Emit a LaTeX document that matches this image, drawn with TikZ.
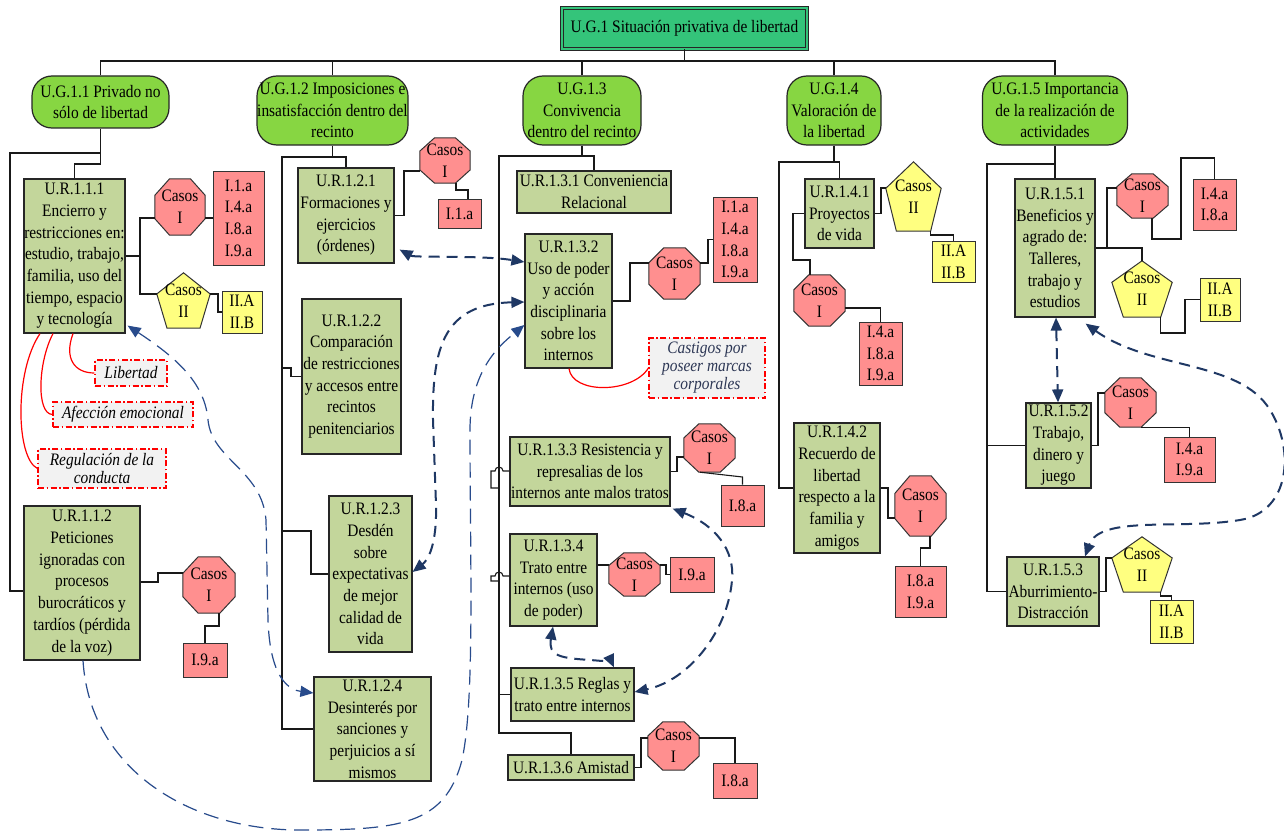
\documentclass[tikz,border=0pt]{standalone}
\usepackage{fontspec}
\setmainfont{Liberation Serif}[FakeStretch=0.88]
\usetikzlibrary{arrows.meta,backgrounds,calc}
\definecolor{topg}{RGB}{52,196,122}
\definecolor{ugg}{RGB}{135,214,66}
\definecolor{urg}{RGB}{195,214,155}
\definecolor{casr}{RGB}{255,143,143}
\definecolor{casy}{RGB}{255,255,128}
\definecolor{navy}{RGB}{31,56,100}
\definecolor{navyb}{RGB}{40,75,140}
\definecolor{annbg}{RGB}{242,242,242}
\definecolor{anntxt}{RGB}{45,55,85}
\newcommand\fs{\fontsize{17.5}{21.7}\selectfont}
\newcommand\fsa{\fontsize{17.5}{18}\selectfont}
\newcommand\drawoct[1]{\filldraw[fill=casr, draw=black!80, line width=1pt]
 ($(#1.north west)!0.293!(#1.north east)$) -- ($(#1.north west)!0.707!(#1.north east)$) --
 ($(#1.north east)!0.293!(#1.south east)$) -- ($(#1.north east)!0.707!(#1.south east)$) --
 ($(#1.south east)!0.293!(#1.south west)$) -- ($(#1.south east)!0.707!(#1.south west)$) --
 ($(#1.south west)!0.293!(#1.north west)$) -- ($(#1.south west)!0.707!(#1.north west)$) -- cycle;}
\newcommand\drawpent[1]{\filldraw[fill=casy, draw=black!80, line width=1pt]
 (#1.north) -- ($(#1.south east)!0.618!(#1.north east)$) -- ($(#1.south west)!0.809!(#1.south east)$) --
 ($(#1.south west)!0.191!(#1.south east)$) -- ($(#1.south west)!0.618!(#1.north west)$) -- cycle;}
\begin{document}
\begin{tikzpicture}[x=1pt,y=-1pt,
 >={Triangle[length=13pt,width=11pt]},
 base/.style={inner sep=0pt, align=center, font=\fs, text=black},
 ur/.style={base, rectangle, draw=black!85, line width=1.2pt, fill=urg},
 ug/.style={base, rectangle, draw=black!85, line width=1.2pt, fill=ugg, rounded corners=20pt},
 refr/.style={base, rectangle, draw=black!80, line width=1pt, fill=casr},
 refy/.style={refr, fill=casy},
 shp/.style={base, rectangle},
 ann/.style={base, rectangle, draw=red, fill=annbg, line width=1.1pt, dash pattern=on 6pt off 2.5pt on 1.5pt off 2.5pt, font=\fsa\itshape},
 conn/.style={line width=1.1pt, black!90},
 mainc/.style={line width=1.9pt, black!90},
 redc/.style={line width=1.2pt, red},
 darr/.style={navy, line width=2pt, dash pattern=on 11pt off 7pt},
 tarr/.style={navyb, line width=1.2pt, dash pattern=on 15pt off 8pt}]
\useasboundingbox (0,0) rectangle (1284,832);
\begin{pgfonlayer}{background}
\fill[white] (0,0) rectangle (1284,832);
\end{pgfonlayer}

% top
\node[base, draw=black!85, double=topg, double distance=2.2pt, line width=0.8pt, fill=topg, minimum width=245pt, minimum height=41pt] (ug1) at (684.5,28.5) {U.G.1 Situación privativa de libertad};
\node[ug, minimum width=137pt, minimum height=52pt] (ug11) at (100.5,102) {U.G.1.1 Privado no\\sólo de libertad};
\node[ug, minimum width=151pt, minimum height=69pt] (ug12) at (332.5,110.5) {U.G.1.2 Imposiciones e\\insatisfacción dentro del\\recinto};
\node[ug, minimum width=118pt, minimum height=69pt] (ug13) at (582,110.5) {U.G.1.3\\Convivencia\\dentro del recinto};
\node[ug, minimum width=94pt, minimum height=69pt] (ug14) at (834,110.5) {U.G.1.4\\Valoración de\\la libertad};
\node[ug, minimum width=145pt, minimum height=69pt] (ug15) at (1055,110.5) {U.G.1.5 Importancia\\de la realización de\\actividades};

% column 1
\node[ur, minimum width=101pt, minimum height=154pt] (ur111) at (74.5,256) {U.R.1.1.1\\Encierro y\\restricciones en:\\estudio, trabajo,\\familia, uso del\\tiempo, espacio\\y tecnología};
\node[shp, minimum width=50pt, minimum height=56pt] (c111) at (180,207) {Casos\\I};
\node[refr, minimum width=51pt, minimum height=94pt] (r111) at (238.5,218) {I.1.a\\I.4.a\\I.8.a\\I.9.a};
\node[shp, minimum width=53pt, minimum height=55pt] (p111) at (183.5,300.5) {Casos\\II};
\node[refy, minimum width=40pt, minimum height=42pt] (y111) at (242,312) {II.A\\II.B};
\node[ann, minimum width=72pt, minimum height=26pt] (annlib) at (131,373) {Libertad};
\node[ann, minimum width=140pt, minimum height=25pt] (annafe) at (123,414.5) {Afección emocional};
\node[ann, minimum width=128pt, minimum height=39pt] (annreg) at (102,468.5) {Regulación de la\\conducta};
\node[ur, minimum width=116pt, minimum height=154pt] (ur112) at (82,583) {U.R.1.1.2\\Peticiones\\ignoradas con\\procesos\\burocráticos y\\tardíos (pérdida\\de la voz)};
\node[shp, minimum width=52pt, minimum height=56pt] (c112) at (209,585) {Casos\\I};
\node[refr, minimum width=44pt, minimum height=34pt] (r112) at (205,660) {I.9.a};

% column 2
\node[ur, minimum width=96pt, minimum height=95pt] (ur121) at (346,215.5) {U.R.1.2.1\\Formaciones y\\ejercicios\\(órdenes)};
\node[shp, minimum width=50pt, minimum height=45pt] (c121) at (445,160.5) {Casos\\I};
\node[refr, minimum width=43pt, minimum height=29pt] (r121) at (459.5,213.5) {I.1.a};
\node[ur, minimum width=99pt, minimum height=155pt] (ur122) at (351.5,376.5) {U.R.1.2.2\\Comparación\\de restricciones\\y accesos entre\\recintos\\penitenciarios};
\node[ur, minimum width=83pt, minimum height=156pt] (ur123) at (370.5,574) {U.R.1.2.3\\Desdén\\sobre\\expectativas\\de mejor\\calidad de\\vida};
\node[ur, minimum width=117pt, minimum height=104pt] (ur124) at (372.5,729) {U.R.1.2.4\\Desinterés por\\sanciones y\\perjuicios a sí\\mismos};

% column 3
\node[ur, minimum width=154pt, minimum height=42pt] (ur131) at (594,192) {U.R.1.3.1 Conveniencia\\Relacional};
\node[ur, minimum width=87pt, minimum height=134pt] (ur132) at (568.5,301) {U.R.1.3.2\\Uso de poder\\y acción\\disciplinaria\\sobre los\\internos};
\node[shp, minimum width=51pt, minimum height=51pt] (c132) at (674.5,273.5) {Casos\\I};
\node[refr, minimum width=44pt, minimum height=85pt] (r132) at (735,239.5) {I.1.a\\I.4.a\\I.8.a\\I.9.a};
\node[ann, minimum width=116pt, minimum height=60pt, text=anntxt] (anncas) at (707,368) {Castigos por\\poseer marcas\\corporales};
\node[ur, minimum width=160pt, minimum height=69pt] (ur133) at (590,471.5) {U.R.1.3.3 Resistencia y\\represalias de los\\internos ante malos tratos};
\node[shp, minimum width=51pt, minimum height=48pt] (c133) at (709.5,448) {Casos\\I};
\node[refr, minimum width=43pt, minimum height=41pt] (r133) at (742.5,505.5) {I.8.a};
\node[ur, minimum width=87pt, minimum height=92pt] (ur134) at (553.5,580) {U.R.1.3.4\\Trato entre\\internos (uso\\de poder)};
\node[shp, minimum width=51pt, minimum height=43pt] (c134) at (634.5,574.5) {Casos\\I};
\node[refr, minimum width=44pt, minimum height=35pt] (r134) at (692,574.5) {I.9.a};
\node[ur, minimum width=123pt, minimum height=53pt] (ur135) at (572.5,694.5) {U.R.1.3.5 Reglas y\\trato entre internos};
\node[ur, minimum width=126pt, minimum height=25pt] (ur136) at (571,767.5) {U.R.1.3.6 Amistad};
\node[shp, minimum width=51pt, minimum height=48pt] (c136) at (673.5,746) {Casos\\I};
\node[refr, minimum width=44pt, minimum height=35pt] (r136) at (735,780.5) {I.8.a};

% column 4
\node[ur, minimum width=69pt, minimum height=69pt] (ur141) at (839.5,213.5) {U.R.1.4.1\\Proyectos\\de vida};
\node[shp, minimum width=55pt, minimum height=69pt] (p141) at (913.5,196.5) {Casos\\II};
\node[refy, minimum width=43pt, minimum height=41pt] (y141) at (953.5,261.5) {II.A\\II.B};
\node[shp, minimum width=51pt, minimum height=51pt] (c141) at (819.5,300.5) {Casos\\I};
\node[refr, minimum width=43pt, minimum height=63pt] (r141) at (880.5,353.5) {I.4.a\\I.8.a\\I.9.a};
\node[ur, minimum width=86pt, minimum height=130pt] (ur142) at (837,488) {U.R.1.4.2\\Recuerdo de\\libertad\\respecto a la\\familia y\\amigos};
\node[shp, minimum width=51pt, minimum height=60pt] (c142) at (920.5,506) {Casos\\I};
\node[refr, minimum width=51pt, minimum height=51pt] (r142) at (920.5,591.5) {I.8.a\\I.9.a};

% column 5
\node[ur, minimum width=80pt, minimum height=138pt] (ur151) at (1055,248) {U.R.1.5.1\\Beneficios y\\agrado de:\\Talleres,\\trabajo y\\estudios};
\node[shp, minimum width=51pt, minimum height=44pt] (c151) at (1142.5,196) {Casos\\I};
\node[refr, minimum width=43pt, minimum height=51pt] (r151) at (1214.5,204.5) {I.4.a\\I.8.a};
\node[shp, minimum width=60pt, minimum height=56pt] (p151) at (1142,289) {Casos\\II};
\node[refy, minimum width=40pt, minimum height=43pt] (y151) at (1220,299.5) {II.A\\II.B};
\node[ur, minimum width=65pt, minimum height=85pt] (ur152) at (1058.5,445.5) {U.R.1.5.2\\Trabajo,\\dinero y\\juego};
\node[shp, minimum width=51pt, minimum height=49pt] (c152) at (1130.5,402.5) {Casos\\I};
\node[refr, minimum width=51pt, minimum height=45pt] (r152) at (1189.5,459.5) {I.4.a\\I.9.a};
\node[ur, minimum width=92pt, minimum height=69pt] (ur153) at (1053,591.5) {U.R.1.5.3\\Aburrimiento-\\Distracción};
\node[shp, minimum width=60pt, minimum height=55pt] (p153) at (1142,564.5) {Casos\\II};
\node[refy, minimum width=43pt, minimum height=43pt] (y153) at (1171.5,621.5) {II.A\\II.B};

% octagon / pentagon outlines
\begin{pgfonlayer}{background}
\drawoct{c111}\drawoct{c112}\drawoct{c121}\drawoct{c132}\drawoct{c133}\drawoct{c134}
\drawoct{c136}\drawoct{c141}\drawoct{c142}\drawoct{c151}\drawoct{c152}
\drawpent{p111}\drawpent{p141}\drawpent{p151}\drawpent{p153}
\end{pgfonlayer}

% top bus
\coordinate (bus) at (684.5,61);
\draw[mainc] (ug1.south) -- (bus);
\draw[mainc] (ug11.north) |- (bus);
\draw[mainc] (ug12.north) |- (bus);
\draw[mainc] (ug13.north) |- (bus);
\draw[mainc] (ug14.north) |- (bus);
\draw[mainc] (ug15.north) |- (bus);

% column 1 connectors
\draw[conn] (ug11.south) -- (100.5,164) -| (ur111.north);
\draw[conn] (100.5,153) -| (10,591) -- (ur112.west |- 10,591);
\draw[conn] (ur111.east) -- (140,256);
\draw[conn] (c111.west |- 0,218) -| (140,294) -- (p111.west |- 0,294);
\draw[conn] (c111.east |- 0,218) -- (r111.west |- 0,218);
\draw[conn] (p111.east |- 0,294) -| (218,312) -- (y111.west);
\draw[conn] (ur112.east |- 0,582) -| (158,573) -- (c112.west |- 0,573);
\draw[conn] (c112.south -| 219,0) |- (205,626) -- (r112.north);
\draw[redc] (ur111.south -| 73,0) .. controls (64,358) and (74,373) .. (annlib.west);
\draw[redc] (ur111.south -| 53,0) .. controls (38,362) and (36,414) .. (annafe.west);
\draw[redc] (ur111.south -| 40,0) .. controls (14,372) and (16,458) .. (annreg.west);

% column 2 connectors
\draw[conn] (ug12.south) -- (332.5,157) -| (ur121.north);
\draw[conn] (332.5,157) -| (ur124.west -| 282,0) -- (ur124.west);
\draw[conn] (282,368) -| (291,376.5) -- (ur122.west);
\draw[conn] (282,531) -| (311,574) -- (ur123.west);
\draw[conn] (ur121.east) -| (404,171) -- (c121.west |- 0,171);
\draw[conn] (c121.south -| 456,0) |- (468,190) -- (r121.north -| 468,0);

% column 3 connectors
\draw[conn] (ug13.south) -- (582,156) -| (ur131.north);
\draw[conn] (582,156) -| (499,733) -| (ur136.north);
\draw[conn] (499,694.5) -- (ur135.west);
\draw[conn] (499,488) -- (491,488) -- (491,471) -- (495,471) arc[start angle=180,end angle=0,radius=4pt] -- (ur133.west |- 0,471);
\draw[conn] (499,581) -- (491,581) -- (491,576) -- (495,576) arc[start angle=180,end angle=0,radius=4pt] -- (ur134.west |- 0,576);
\draw[conn] (ur132.east) -| (630,263) -- (c132.west |- 0,263);
\draw[conn] (c132.east |- 0,263) -| (708,239.5) -- (r132.west);
\draw[redc] (ur132.south -| 569,0) .. controls (572,394) and (632,394) .. (anncas.west);
\draw[conn] (ur133.east) -| (677,457) -- (c133.west |- 0,457);
\draw[conn] (c133.south -| 700,0) -- (742.5,477) -- (r133.north);
\draw[conn] (ur134.east |- 0,565) -- (c134.west |- 0,565);
\draw[conn] (c134.east |- 0,565) -| (666,574.5) -- (r134.west);
\draw[conn] (ur136.east) -| (641,738) -- (c136.west |- 0,738);
\draw[conn] (c136.east |- 0,738) -| (r136.north);

% column 4 connectors
\draw[conn] (ug14.south) -- (834,162) -| (ur141.north);
\draw[conn] (834,162) -| (779,488) -- (ur142.west);
\draw[conn] (ur141.east) -| (881,188) -- (p141.west |- 0,188);
\draw[conn] (p141.south -| 930.5,0) |- (953.5,235) -- (y141.north);
\draw[conn] (ur141.west) -| (793,260) -| (c141.north -| 810,0);
\draw[conn] (c141.east |- 0,308) -| (r141.north);
\draw[conn] (ur142.east) -| (888,518) -- (c142.west |- 0,518);
\draw[conn] (c142.south -| 930,0) |- (920.5,548) -- (r142.north);

% column 5 connectors
\draw[conn] (ug15.south) -- (ur151.north);
\draw[conn] (1055,164) -| (987,591.5) -- (ur153.west);
\draw[conn] (987,445.5) -- (ur152.west);
\draw[conn] (ur151.east) -- (1107,248);
\draw[conn] (c151.west |- 0,188) -| (1107,248) -| (p151.north);
\draw[conn] (c151.south -| 1152,0) |- (1181,239) |- (1214.5,158) -- (r151.north);
\draw[conn] (p151.south -| 1160.5,0) |- (1185,333) |- (y151.west);
\draw[conn] (ur152.east) -| (1098,393) -- (c152.west |- 0,393);
\draw[conn] (c152.south -| 1141,0) -| (r152.north);
\draw[conn] (ur153.east) -| (1106,558) -- (p153.west |- 0,558);
\draw[conn] (p153.south -| 1160.5,0) |- (1171.5,596) -- (y153.north);

% dashed relations
\draw[darr,<->] ([shift={(5,-14)}]ur121.south east) .. controls (415,258) and (480,255) .. (ur132.west |- 0,262);
\draw[darr,<->] (ur132.west |- 0,302) .. controls (445,304) and (432,345) .. (433,420) -- (436,505) .. controls (437,545) and (428,560) .. (ur123.east |- 0,572);
\draw[tarr,->] (ur112.south -| 83,0) .. controls (90,770) and (190,830) .. (300,830) .. controls (400,830) and (445,825) .. (462,760) .. controls (475,700) and (470,560) .. (470,430) .. controls (470,370) and (500,345) .. (ur132.west |- 0,325);
\draw[tarr,<->] ([shift={(2,-8)}]ur111.south east) .. controls (180,360) and (205,385) .. (208,420) .. controls (212,460) and (262,470) .. (266,520) -- (268,620) .. controls (270,680) and (290,690) .. (ur124.west |- 0,693);
\draw[darr,<->] (ur134.south -| 553,0) .. controls (548,656) and (560,658) .. (590,660) .. controls (605,661) and (612,663) .. (ur135.north -| 614,0);
\draw[darr,<->] ([shift={(2,2)}]ur133.south east) .. controls (715,525) and (735,550) .. (732,580) .. controls (728,630) and (690,680) .. (ur135.east |- 0,692);
\draw[darr,<->] (ur151.south -| 1056,0) -- (ur152.north -| 1058,0);
\draw[darr,<->] ([shift={(-10,6)}]ur151.south east) .. controls (1150,370) and (1240,360) .. (1270,410) .. controls (1295,450) and (1290,512) .. (1240,520) .. controls (1180,530) and (1100,515) .. (ur153.north -| 1085,0);
\end{tikzpicture}
\end{document}
